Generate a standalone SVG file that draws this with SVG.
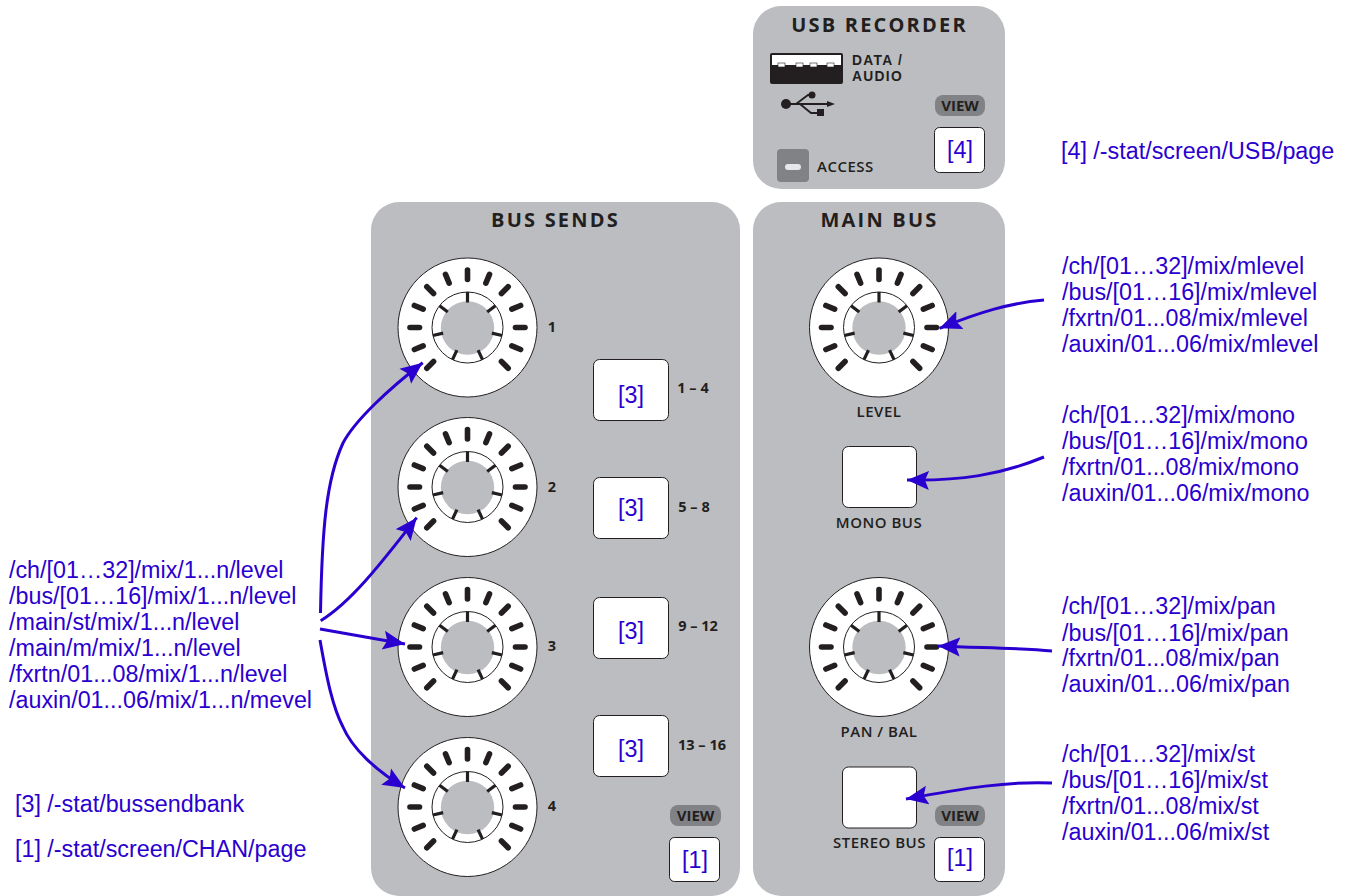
<svg xmlns="http://www.w3.org/2000/svg" width="1350" height="896" viewBox="0 0 1350 896">
<style>
.panel{fill:#bcbdc1}
.btn{fill:#fff;stroke:#231f20;stroke-width:1}
.t{font-family:"Open Sans","DejaVu Sans",sans-serif;font-weight:700;fill:#231f20;text-anchor:middle}
.h{font-size:20px;letter-spacing:2.2px}
.s{font-size:15px;font-weight:600;letter-spacing:.5px}
.d{font-family:"Liberation Sans",Arial,sans-serif;font-weight:700;font-size:13.800px;letter-spacing:1.300px;fill:#231f20}
.v{font-size:15px;font-weight:700}
.n{font-size:14.500px}
.b{font-family:"Liberation Sans",Arial,sans-serif;font-size:23.300px;fill:#2a00d0}
.m{text-anchor:middle}
.view{fill:#808285}
.conn{fill:none;stroke:#2a00d0;stroke-width:3}
.tk{stroke:#231f20;stroke-width:5.600;stroke-linecap:round}
.ti{stroke:#231f20;stroke-width:3.200}
</style>
<defs>
<marker id="arr" markerUnits="userSpaceOnUse" markerWidth="25" markerHeight="22" refX="22" refY="10" orient="auto">
<path d="M0 0.500L22 10L0 19.500L4 10Z" fill="#2a00d0"/>
</marker>
<g id="knob">
<circle r="69.500" fill="#fff" stroke="#231f20" stroke-width="1"/>
<circle r="35.500" fill="#fff" stroke="#231f20" stroke-width="1"/>
<circle cy="0.500" r="26.700" fill="#bcbdc1"/>
<line class="tk" y1="-48" y2="-57.500" transform="rotate(-135)"/>
<line class="tk" y1="-48" y2="-57.500" transform="rotate(-112.500)"/>
<line class="tk" y1="-48" y2="-57.500" transform="rotate(-90)"/>
<line class="tk" y1="-48" y2="-57.500" transform="rotate(-67.500)"/>
<line class="tk" y1="-48" y2="-57.500" transform="rotate(-45)"/>
<line class="tk" y1="-48" y2="-57.500" transform="rotate(-22.500)"/>
<line class="tk" y1="-48" y2="-57.500"/>
<line class="tk" y1="-48" y2="-57.500" transform="rotate(22.500)"/>
<line class="tk" y1="-48" y2="-57.500" transform="rotate(45)"/>
<line class="tk" y1="-48" y2="-57.500" transform="rotate(67.500)"/>
<line class="tk" y1="-48" y2="-57.500" transform="rotate(90)"/>
<line class="tk" y1="-48" y2="-57.500" transform="rotate(112.500)"/>
<line class="tk" y1="-48" y2="-57.500" transform="rotate(135)"/>
<line class="ti" y1="-25" y2="-35.500"/>
<line class="ti" y1="-25" y2="-35.500" transform="rotate(52)"/>
<line class="ti" y1="-25" y2="-35.500" transform="rotate(103)"/>
<line class="ti" y1="-25" y2="-35.500" transform="rotate(155)"/>
<line class="ti" y1="-25" y2="-35.500" transform="rotate(-52)"/>
<line class="ti" y1="-25" y2="-35.500" transform="rotate(-103)"/>
<line class="ti" y1="-25" y2="-35.500" transform="rotate(-155)"/>
</g>
</defs>

<g id="panel-usb">
<rect class="panel" x="753" y="6" width="252" height="183" rx="28"/>
<text class="t h" x="879.500" y="32">USB RECORDER</text>
<rect x="770" y="53" width="73" height="31" rx="2" fill="#231f20"/>
<rect x="772" y="55" width="69" height="10" fill="#fff"/>
<g fill="#fff" stroke="#231f20" stroke-width=".6"><rect x="778" y="63" width="7" height="4"/><rect x="796" y="63" width="7" height="4"/><rect x="810" y="63" width="7" height="4"/><rect x="827" y="63" width="7" height="4"/></g>
<text class="d" x="852" y="65">DATA /</text>
<text class="d" x="852" y="81">AUDIO</text>
<g id="usb-symbol">
<circle cx="786" cy="104" r="5" fill="#231f20"/>
<path d="M790 104H827M796 104L808 95H812M800 104L811 113H817" fill="none" stroke="#231f20" stroke-width="1.800"/>
<circle cx="812" cy="95" r="3.500" fill="#231f20"/>
<rect x="817" y="109" width="7" height="7" fill="#231f20"/>
<path d="M827 101L835 104L827 107Z" fill="#231f20"/>
</g>
<rect x="777" y="149" width="32" height="33" rx="4" fill="#808285"/>
<rect x="785" y="164" width="16" height="6" rx="3" fill="#e6e7e8"/>
<text class="t s" x="817" y="172" style="text-anchor:start">ACCESS</text>
<rect class="view" x="935" y="95" width="50" height="21" rx="8"/>
<text class="t v" x="960" y="111">VIEW</text>
</g>

<g id="panel-bus-sends">
<path class="panel" d="M399 202H712A28 28 0 0 1 740 230V868A28 28 0 0 1 712 896H399A28 28 0 0 1 371 868V230A28 28 0 0 1 399 202Z"/>
<text class="t h" x="555.500" y="227">BUS SENDS</text>
</g>

<g id="panel-main-bus">
<path class="panel" d="M781 202H977A28 28 0 0 1 1005 230V868A28 28 0 0 1 977 896H781A28 28 0 0 1 753 868V230A28 28 0 0 1 781 202Z"/>
<text class="t h" x="879.500" y="227">MAIN BUS</text>
</g>

<g id="knob-1"><use href="#knob" x="467.500" y="327.500"/><text class="t n" x="552" y="332">1</text></g>
<g id="knob-2"><use href="#knob" x="467.500" y="487"/><text class="t n" x="552" y="492">2</text></g>
<g id="knob-3"><use href="#knob" x="467.500" y="647"/><text class="t n" x="552" y="651">3</text></g>
<g id="knob-4"><use href="#knob" x="467.500" y="807"/><text class="t n" x="552" y="811">4</text></g>

<g id="btn-1-4"><rect class="btn" x="593.500" y="359.500" width="75" height="61" rx="6"/><text class="b m" x="631" y="403">[3]</text><text class="t n" x="693" y="393">1 – 4</text></g>
<g id="btn-5-8"><rect class="btn" x="593.500" y="477.500" width="75" height="61" rx="6"/><text class="b m" x="631" y="516">[3]</text><text class="t n" x="694" y="512">5 – 8</text></g>
<g id="btn-9-12"><rect class="btn" x="593.500" y="597.500" width="75" height="61" rx="6"/><text class="b m" x="631" y="639">[3]</text><text class="t n" x="698" y="631">9 – 12</text></g>
<g id="btn-13-16"><rect class="btn" x="593.500" y="715.500" width="75" height="61" rx="6"/><text class="b m" x="631" y="757">[3]</text><text class="t n" x="702" y="750">13 – 16</text></g>

<g id="view-bus"><rect class="view" x="670" y="805" width="51" height="21" rx="8"/><text class="t v" x="695.500" y="821">VIEW</text></g>
<g id="btn-view-bus"><rect class="btn" x="669.500" y="837.500" width="50" height="44" rx="5"/><text class="b m" x="695" y="868">[1]</text></g>

<g id="knob-level"><use href="#knob" x="879" y="327.500"/><text class="t s" x="879" y="417">LEVEL</text></g>
<g id="btn-mono"><rect class="btn" x="842.500" y="446.500" width="74" height="61" rx="6"/><text class="t s" x="879" y="528">MONO BUS</text></g>
<g id="knob-pan"><use href="#knob" x="879" y="647"/><text class="t s" x="879" y="737">PAN / BAL</text></g>
<g id="btn-stereo"><rect class="btn" x="842.500" y="767" width="74" height="61" rx="6"/><text class="t s" x="879.500" y="848">STEREO BUS</text></g>
<g id="view-main"><rect class="view" x="935" y="805" width="50" height="21" rx="8"/><text class="t v" x="960" y="821">VIEW</text></g>
<g id="btn-view-main"><rect class="btn" x="934.500" y="837.500" width="50" height="44" rx="5"/><text class="b m" x="960" y="866">[1]</text></g>
<g id="btn-view-usb"><rect class="btn" x="934.500" y="127.500" width="50" height="45" rx="5"/><text class="b m" x="960" y="158">[4]</text></g>

<g id="connectors">
<path class="conn" marker-end="url(#arr)" d="M320.500 613C322 530 326 480 343 443C355 420 390 388 422.700 362.700"/>
<path class="conn" marker-end="url(#arr)" d="M320.700 620.700C350 603 380 565 416.700 517.700"/>
<path class="conn" marker-end="url(#arr)" d="M320 629L405 644"/>
<path class="conn" marker-end="url(#arr)" d="M320 640C327 680 333 708 343 727C352 748 375 770 405 788"/>
<path class="conn" marker-end="url(#arr)" d="M1044 300C1010 303 980 312 939.500 328.300"/>
<path class="conn" marker-end="url(#arr)" d="M1044 457C1000 475 960 481 907 480"/>
<path class="conn" marker-end="url(#arr)" d="M1052 651C1020 648 985 648 938 646"/>
<path class="conn" marker-end="url(#arr)" d="M1052 783C1010 781 965 788 906 799"/>
</g>

<g id="labels" transform="translate(0,.500)">
<text class="b" x="9" y="577">/ch/[01…32]/mix/1...n/level</text>
<text class="b" x="9" y="603">/bus/[01…16]/mix/1...n/level</text>
<text class="b" x="9" y="629">/main/st/mix/1...n/level</text>
<text class="b" x="9" y="655">/main/m/mix/1...n/level</text>
<text class="b" x="9" y="681">/fxrtn/01...08/mix/1...n/level</text>
<text class="b" x="9" y="707">/auxin/01...06/mix/1...n/mevel</text>
<text class="b" x="15" y="811">[3] /-stat/bussendbank</text>
<text class="b" x="15" y="856">[1] /-stat/screen/CHAN/page</text>
<text class="b" x="1061" y="158">[4] /-stat/screen/USB/page</text>
<text class="b" x="1062" y="273">/ch/[01…32]/mix/mlevel</text>
<text class="b" x="1062" y="299">/bus/[01…16]/mix/mlevel</text>
<text class="b" x="1062" y="325">/fxrtn/01...08/mix/mlevel</text>
<text class="b" x="1062" y="351">/auxin/01...06/mix/mlevel</text>
<text class="b" x="1062" y="422">/ch/[01…32]/mix/mono</text>
<text class="b" x="1062" y="448">/bus/[01…16]/mix/mono</text>
<text class="b" x="1062" y="474">/fxrtn/01...08/mix/mono</text>
<text class="b" x="1062" y="500">/auxin/01...06/mix/mono</text>
<text class="b" x="1062" y="613">/ch/[01…32]/mix/pan</text>
<text class="b" x="1062" y="640">/bus/[01…16]/mix/pan</text>
<text class="b" x="1062" y="665">/fxrtn/01...08/mix/pan</text>
<text class="b" x="1062" y="691">/auxin/01...06/mix/pan</text>
<text class="b" x="1062" y="761">/ch/[01…32]/mix/st</text>
<text class="b" x="1062" y="787">/bus/[01…16]/mix/st</text>
<text class="b" x="1062" y="813">/fxrtn/01...08/mix/st</text>
<text class="b" x="1062" y="839">/auxin/01...06/mix/st</text>
</g>
</svg>
